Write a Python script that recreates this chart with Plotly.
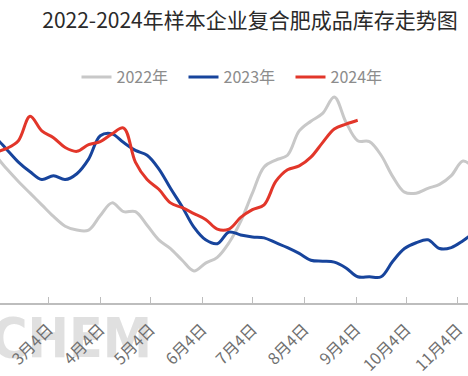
import plotly.graph_objects as go

# weekly sample dates (mapped onto a common year for comparison)
week_dates = [
    "2024-01-25", "2024-02-01", "2024-02-08", "2024-02-15", "2024-02-22", "2024-02-29",
    "2024-03-07", "2024-03-14", "2024-03-21", "2024-03-28",
    "2024-04-04", "2024-04-11", "2024-04-18", "2024-04-25",
    "2024-05-02", "2024-05-09", "2024-05-16", "2024-05-23", "2024-05-30",
    "2024-06-06", "2024-06-13", "2024-06-20", "2024-06-27",
    "2024-07-04", "2024-07-11", "2024-07-18", "2024-07-25",
    "2024-08-01", "2024-08-08", "2024-08-15", "2024-08-22", "2024-08-29",
    "2024-09-05", "2024-09-12", "2024-09-19", "2024-09-26",
    "2024-10-03", "2024-10-10", "2024-10-17", "2024-10-24", "2024-10-31",
    "2024-11-07", "2024-11-14",
]

inv_2022 = [72.6, 70.4, 67.6, 65.0, 62.6, 60.2, 57.8, 55.8, 55.0, 55.0,
            58.0, 60.6, 58.8, 58.8, 56.0, 53.0, 51.2, 48.8, 46.6, 48.2,
            49.4, 52.4, 56.8, 62.6, 68.0, 69.4, 70.4, 75.4, 77.4, 79.0,
            82.4, 77.2, 73.4, 73.2, 70.4, 66.0, 62.8, 62.6, 63.6, 64.4,
            66.2, 69.2, 67.6]

inv_2023 = [76.6, 74.2, 71.6, 69.0, 67.0, 65.4, 66.2, 65.4, 66.6, 69.6,
            74.4, 74.8, 73.0, 71.4, 70.4, 67.6, 63.6, 59.8, 55.6, 53.0,
            52.2, 54.6, 54.0, 53.6, 53.4, 52.4, 51.4, 50.2, 48.8, 48.6,
            48.4, 47.2, 45.4, 45.4, 45.4, 48.6, 51.2, 52.4, 53.0, 51.2,
            51.4, 52.8, 54.6]

inv_2024 = [70.4, 71.0, 71.8, 73.4, 78.4, 75.4, 74.0, 72.0, 71.2, 72.6,
            73.2, 74.8, 76.0, 69.0, 65.4, 63.4, 60.6, 59.6, 58.4, 57.2,
            55.2, 55.2, 57.6, 59.2, 60.2, 65.0, 67.4, 68.2, 70.0, 73.0,
            75.8, 76.8, 77.6]

tick_dates = ["2024-02-04", "2024-03-04", "2024-04-04", "2024-05-04", "2024-06-04",
              "2024-07-04", "2024-08-04", "2024-09-04", "2024-10-04", "2024-11-04"]
tick_text = ["2月4日", "3月4日", "4月4日", "5月4日", "6月4日",
             "7月4日", "8月4日", "9月4日", "10月4日", "11月4日"]

series = [
    ("2022年", inv_2022, "#c8c8c8"),
    ("2023年", inv_2023, "#17449c"),
    ("2024年", inv_2024, "#e2362a"),
]

FONT = "Noto Sans CJK SC, Noto Sans, sans-serif"

fig = go.Figure()
for name, vals, color in series:
    fig.add_trace(go.Scatter(
        x=week_dates[:len(vals)], y=vals, name=name, mode="lines",
        line=dict(color=color, width=3, shape="spline", smoothing=1.0),
        hoverinfo="skip",
    ))

fig.update_layout(
    width=468, height=376,
    margin=dict(l=0, r=0, t=88, b=73, pad=0),
    paper_bgcolor="white", plot_bgcolor="white",
    font=dict(family=FONT),
    title=dict(text="2022-2024年样本企业复合肥成品库存走势图",
               x=250 / 468, xanchor="center", xref="container",
               y=1 - 21 / 376, yanchor="middle", yref="container",
               font=dict(size=21, color="#2a2a2a", family=FONT)),
    legend=dict(orientation="h", x=237 / 468, xanchor="center", xref="container",
                y=1 - 77 / 376, yanchor="middle", yref="container",
                font=dict(size=16, color="#8c8c8c", family=FONT),
                itemwidth=30, entrywidth=62, entrywidthmode="pixels",
                bgcolor="rgba(0,0,0,0)", tracegroupgap=0),
    showlegend=True,
    xaxis=dict(type="date", range=["2024-02-04", "2024-11-10"],
               tickvals=tick_dates, ticktext=tick_text, tickangle=-45,
               tickfont=dict(size=16, color="#707070", family=FONT),
               ticklabelstandoff=9,
               ticks="inside", ticklen=6, tickcolor="#bdbdbd", tickwidth=1,
               showline=True, linecolor="#bdbdbd", linewidth=1.5,
               showgrid=False, zeroline=False, fixedrange=True),
    yaxis=dict(range=[40, 83], visible=False, showgrid=False, fixedrange=True),
    shapes=[dict(type="rect", xref="paper", yref="paper",
                 x0=-0.05, x1=158 / 468, y0=-0.02, y1=-0.28,
                 line=dict(width=0), fillcolor="rgba(0,0,0,0)", layer="below",
                 label=dict(text="LCHEM", textposition="middle right",
                            font=dict(size=55, color="#e0e0e0", weight="bold",
                                      family="Liberation Sans Narrow, DejaVu Sans Condensed, Liberation Sans")))],
)

fig.write_html("out.html", config={"displayModeBar": False},
               post_script="document.body.style.margin='0';document.body.style.overflow='hidden';")
